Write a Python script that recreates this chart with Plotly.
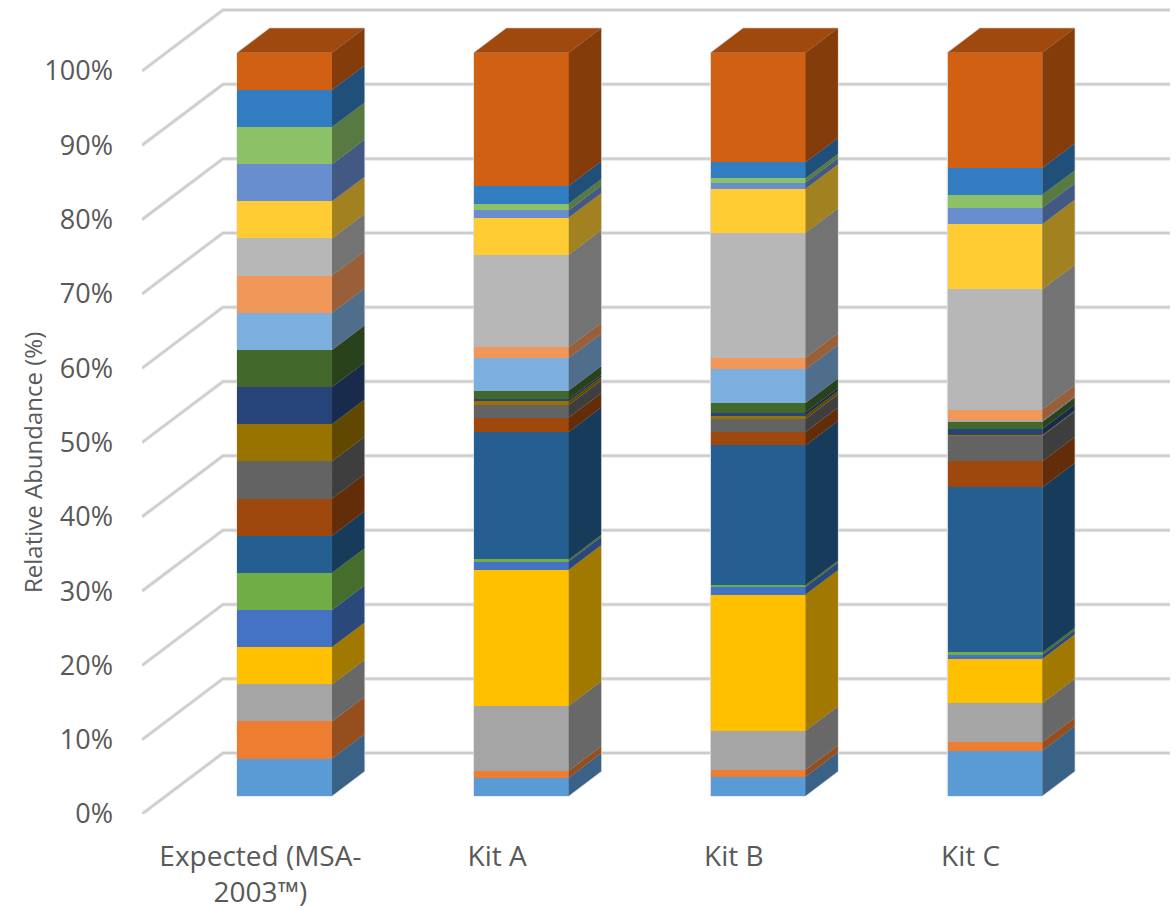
import numpy as np
import plotly.graph_objects as go

# Relative abundance (%) of each of the 20 community members, bottom of the stack first
categories = ["Expected (MSA-<br>2003™)", "Kit A", "Kit B", "Kit C"]
expected = [5, 5, 5, 5, 5, 5, 5, 5, 5, 5, 5, 5, 5, 5, 5, 5, 5, 5, 5, 5]
kit_a = [2.42, 0.94, 8.74, 18.32, 1.13, 0.25, 17.16, 1.94, 1.69, 0.50,
         0.27, 1.17, 4.38, 1.44, 12.46, 5.01, 0.98, 0.90, 2.38, 17.92]
kit_b = [2.55, 0.94, 5.25, 18.34, 1.01, 0.27, 18.78, 1.82, 1.75, 0.46,
         0.40, 1.29, 4.53, 1.57, 16.81, 5.91, 0.85, 0.57, 2.15, 14.75]
kit_c = [6.05, 1.17, 5.24, 5.95, 0.54, 0.34, 22.20, 3.50, 3.44, 0.09,
         0.85, 0.94, 0.13, 1.54, 16.17, 8.77, 2.21, 1.74, 3.63, 15.50]
series_colors = ["#5B9BD5", "#ED7D31", "#A5A5A5", "#FFC000", "#4472C4",
                 "#70AD47", "#255E91", "#9E480E", "#636363", "#997300",
                 "#264478", "#43682B", "#7CAFDD", "#F1975A", "#B7B7B7",
                 "#FFCD33", "#698ED0", "#8CC168", "#327DC2", "#D26012"]
y_ticks = [0, 10, 20, 30, 40, 50, 60, 70, 80, 90, 100]
y_tick_labels = ["0%", "10%", "20%", "30%", "40%", "50%", "60%", "70%", "80%", "90%", "100%"]

TEXT = "#595959"
FONT = "Open Sans"

# Oblique projection: depth 0 is the front floor edge, depth 1 the back wall
DEPTH_X = 0.342   # category units
DEPTH_Y = 8.2     # percentage points
BAR_FRONT, BAR_BACK = 0.3, 0.7
BAR_HALF = 0.2


def project(x, y, depth):
    return x + depth * DEPTH_X, y + depth * DEPTH_Y


def shade(color, factor):
    channels = [int(color[i:i + 2], 16) for i in (1, 3, 5)]
    return "rgb({},{},{})".format(*(round(c * factor) for c in channels))


stacks = np.array([expected, kit_a, kit_b, kit_c], dtype=float)
tops = np.cumsum(stacks, axis=1)
bottoms = tops - stacks
centers = np.arange(len(categories), dtype=float)

fig = go.Figure()

# Front faces
front_x, front_lift = project(centers, 0.0, BAR_FRONT)
for s, color in enumerate(series_colors):
    fig.add_trace(go.Bar(
        x=front_x, y=stacks[:, s], base=bottoms[:, s] + front_lift,
        width=2 * BAR_HALF, marker=dict(color=color, line=dict(width=0)),
        hoverinfo="skip", showlegend=False, cliponaxis=False,
    ))

# Right-hand side faces, one polygon per bar and series
for s, color in enumerate(series_colors):
    xs, ys = [], []
    for c, center in enumerate(centers):
        edge = center + BAR_HALF
        corners = [project(edge, bottoms[c, s], BAR_FRONT),
                   project(edge, tops[c, s], BAR_FRONT),
                   project(edge, tops[c, s], BAR_BACK),
                   project(edge, bottoms[c, s], BAR_BACK)]
        xs += [p[0] for p in corners] + [corners[0][0], None]
        ys += [p[1] for p in corners] + [corners[0][1], None]
    fig.add_trace(go.Scatter(
        x=xs, y=ys, mode="lines", fill="toself", line=dict(width=0),
        fillcolor=shade(color, 0.63), hoverinfo="skip", showlegend=False,
        cliponaxis=False,
    ))

# Lid of each stack
xs, ys = [], []
for c, center in enumerate(centers):
    total = tops[c, -1]
    corners = [project(center - BAR_HALF, total, BAR_FRONT),
               project(center + BAR_HALF, total, BAR_FRONT),
               project(center + BAR_HALF, total, BAR_BACK),
               project(center - BAR_HALF, total, BAR_BACK)]
    xs += [p[0] for p in corners] + [corners[0][0], None]
    ys += [p[1] for p in corners] + [corners[0][1], None]
fig.add_trace(go.Scatter(
    x=xs, y=ys, mode="lines", fill="toself", line=dict(width=0),
    fillcolor=shade(series_colors[-1], 0.76), hoverinfo="skip",
    showlegend=False, cliponaxis=False,
))

# Gridlines run along the side wall and then across the back wall
x_left = -0.5
x_right = x_left + len(categories)
shapes = []
for tick in y_ticks:
    a = project(x_left, tick, 0)
    b = project(x_left, tick, 1)
    d = project(x_right, tick, 1)
    path = f"M {a[0]} {a[1]} L {b[0]} {b[1]} L {d[0]} {d[1]}"
    for width, tone in ((4, "#E8E8E8"), (2, "#CBCBCB")):
        shapes.append(dict(type="path", path=path, xref="x", yref="y",
                           layer="below", line=dict(color=tone, width=width)))

# Pale outline around each box
for c, center in enumerate(centers):
    total = tops[c, -1]
    outline = [project(center - BAR_HALF, 0, BAR_FRONT),
               project(center + BAR_HALF, 0, BAR_FRONT),
               project(center + BAR_HALF, 0, BAR_BACK),
               project(center + BAR_HALF, total, BAR_BACK),
               project(center - BAR_HALF, total, BAR_BACK),
               project(center - BAR_HALF, total, BAR_FRONT)]
    path = "M " + " L ".join(f"{p[0]} {p[1]}" for p in outline) + " Z"
    shapes.append(dict(type="path", path=path, xref="x", yref="y", layer="below",
                       fillcolor="#D4D4D4", line=dict(color="#D9D9D9", width=1.5)))

WIDTH, HEIGHT = 1176, 909
M_L, M_R, M_T, M_B = 142, 6, 5, 95
plot_w = WIDTH - M_L - M_R
plot_h = HEIGHT - M_T - M_B
PX_PER_CATEGORY = 236.75
PX_PER_PERCENT = 7.43

fig.update_layout(
    width=WIDTH, height=HEIGHT,
    margin=dict(l=M_L, r=M_R, t=M_T, b=M_B, pad=0, autoexpand=False),
    paper_bgcolor="white", plot_bgcolor="white",
    barmode="overlay", bargap=0,
    font=dict(family=FONT, color=TEXT, size=27),
    shapes=shapes,
    showlegend=False,
    xaxis=dict(
        range=[x_left, x_left + plot_w / PX_PER_CATEGORY],
        tickmode="array", tickvals=centers, ticktext=categories,
        showgrid=False, zeroline=False, showline=False, ticks="",
        automargin=False,
        ticklabelstandoff=23, tickfont=dict(family=FONT, color=TEXT, size=28),
    ),
    yaxis=dict(
        range=[0, plot_h / PX_PER_PERCENT],
        tickmode="array", tickvals=y_ticks, ticktext=y_tick_labels,
        showgrid=False, zeroline=False, showline=False, ticks="",
        automargin=False,
        ticklabelstandoff=28, tickfont=dict(family=FONT, color=TEXT, size=27),
    ),
    annotations=[dict(
        text="Relative Abundance (%)", textangle=-90, showarrow=False,
        xref="paper", yref="paper", xanchor="center", yanchor="middle",
        x=(32 - M_L) / plot_w, y=(HEIGHT - M_B - 463) / plot_h,
        font=dict(family=FONT, color=TEXT, size=24),
    )],
)

fig.write_html("out.html")
